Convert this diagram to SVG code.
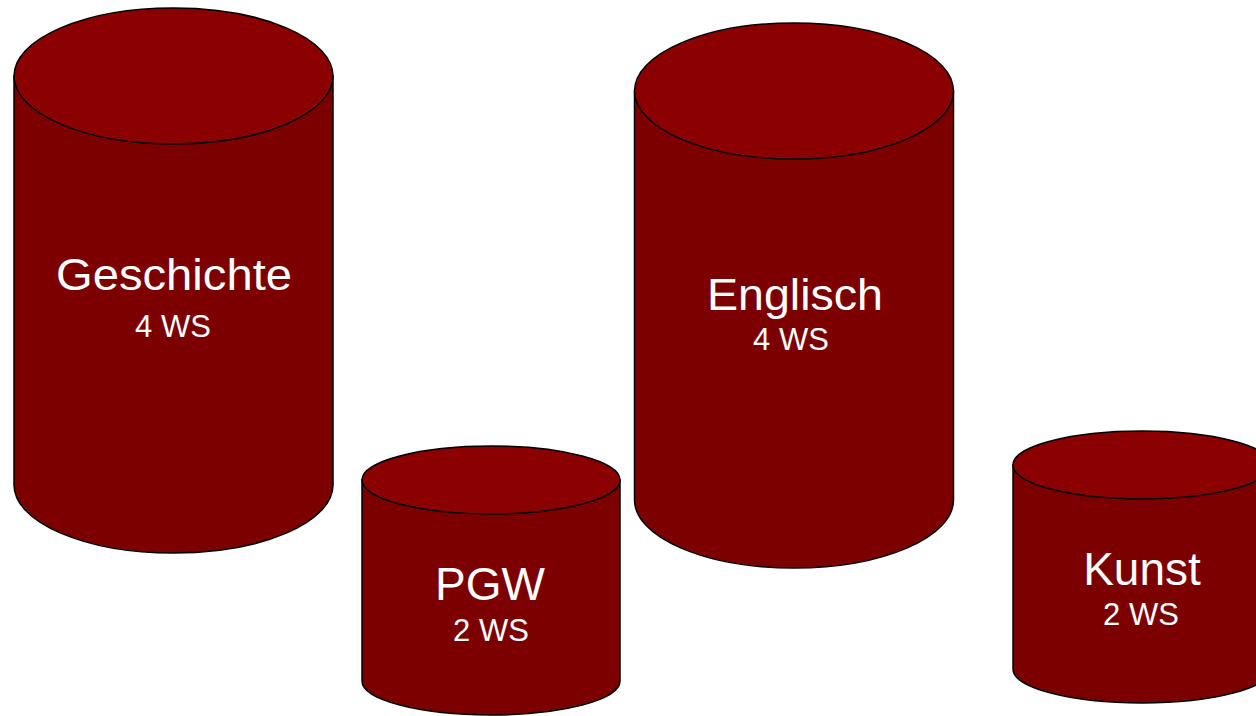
<svg xmlns="http://www.w3.org/2000/svg" width="1256" height="716" viewBox="0 0 1256 716">
<style>
.body{fill:#7d0000;stroke:#000;stroke-width:1.5}
.top{fill:#8b0000;stroke:#000;stroke-width:1.5}
.t{font-family:"Liberation Sans",Arial,sans-serif;fill:#fff;text-anchor:middle}
</style>
<rect width="1256" height="716" fill="#fff"/>
<g id="geschichte">
<path class="body" d="M14,76 L14,485 A159.5,68 0 0 0 333,485 L333,76 Z"/>
<ellipse class="top" cx="173.5" cy="76" rx="159.5" ry="68"/>
<text class="t" x="174" y="290" font-size="44" textLength="236" lengthAdjust="spacingAndGlyphs">Geschichte</text>
<text class="t" x="173" y="337" font-size="31">4 WS</text>
</g>
<g id="pgw">
<path class="body" d="M362,480 L362,681 A129,34 0 0 0 620,681 L620,480 Z"/>
<ellipse class="top" cx="491" cy="480" rx="129" ry="34"/>
<text class="t" x="490" y="600" font-size="46">PGW</text>
<text class="t" x="491" y="641" font-size="31">2 WS</text>
</g>
<g id="englisch">
<path class="body" d="M634.5,91 L634.5,500 A159.5,68 0 0 0 953.5,500 L953.5,91 Z"/>
<ellipse class="top" cx="794" cy="91" rx="159.5" ry="68"/>
<text class="t" x="795" y="310" font-size="44" textLength="176" lengthAdjust="spacingAndGlyphs">Englisch</text>
<text class="t" x="791" y="350" font-size="31">4 WS</text>
</g>
<g id="kunst">
<path class="body" d="M1013,465 L1013,669 A129,34 0 0 0 1271,669 L1271,465 Z"/>
<ellipse class="top" cx="1142" cy="465" rx="129" ry="34"/>
<text class="t" x="1142" y="585" font-size="46">Kunst</text>
<text class="t" x="1141" y="625" font-size="31">2 WS</text>
</g>
<g id="connectors"/>
</svg>
